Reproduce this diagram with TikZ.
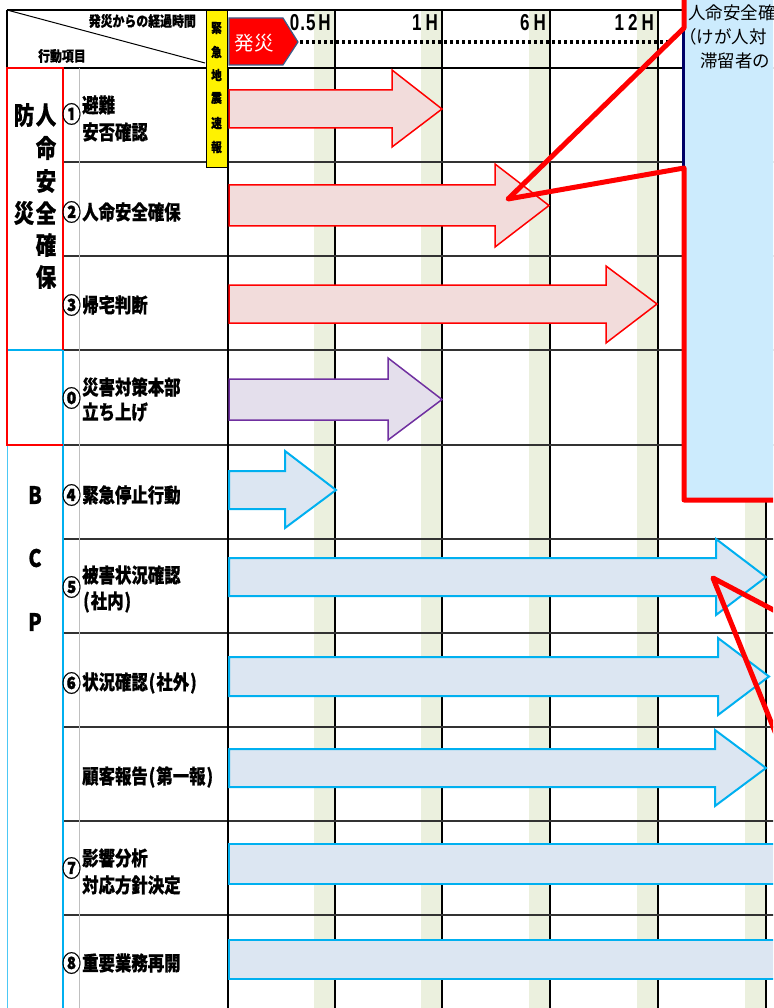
\documentclass[tikz,border=0pt]{standalone}
\usepackage{fontspec}
\newfontfamily\jp{Noto Sans CJK JP}[FakeStretch=0.82, BoldFeatures={FakeBold=0.6}]
\newfontfamily\jpn{Noto Sans CJK JP}
\newfontfamily\hfont{Liberation Sans}[FakeStretch=0.74]
\definecolor{band}{RGB}{235,240,222}
\definecolor{redfill}{RGB}{242,220,219}
\definecolor{purfill}{RGB}{228,223,236}
\definecolor{purline}{RGB}{112,48,160}
\definecolor{bluefill}{RGB}{220,230,242}
\definecolor{blueline}{RGB}{0,176,240}
\definecolor{callfill}{RGB}{204,235,253}
\definecolor{navyline}{RGB}{0,0,102}
\definecolor{pentborder}{RGB}{56,93,138}
\definecolor{rowline}{RGB}{50,50,50}
\newcommand\blkarrow[8]{\draw[#8] (#1,#2) -- (#4,#2) -- (#4,#5) -- (#7,{(#2+#3)/2}) -- (#4,#6) -- (#4,#3) -- (#1,#3) -- cycle;}
\newcommand\lp{\kern1pt(\kern1pt}
\newcommand\rp{\kern1pt)\kern1pt}
\begin{document}
\begin{tikzpicture}[x=1pt,y=-1pt,
  rowtext/.style={font=\jp\bfseries\fontsize{20}{22}\selectfont, anchor=west, inner sep=0pt},
  numtext/.style={font=\jp\bfseries\fontsize{23}{24}\selectfont, inner sep=0pt},
  cattext/.style={font=\jp\bfseries\fontsize{25}{26}\selectfont, inner sep=0pt},
  bcptext/.style={font=\jp\bfseries\fontsize{24}{26}\selectfont, inner sep=0pt},
  hdrtext/.style={font=\jp\bfseries\fontsize{14.5}{16}\selectfont, inner sep=0pt},
  eewtext/.style={font=\jp\bfseries\fontsize{13}{14}\selectfont, inner sep=0pt},
  hourtext/.style={font=\hfont\bfseries\fontsize{23}{24}\selectfont, anchor=base east, inner sep=0pt},
  calltext/.style={font=\jpn\fontsize{17.5}{20}\selectfont, anchor=west, inner sep=0pt},
  redarrow/.style={draw=red, fill=redfill, line width=1.5pt},
  purarrow/.style={draw=purline, fill=purfill, line width=1.5pt},
  bluearrow/.style={draw=blueline, fill=bluefill, line width=2pt},
  gridv/.style={black, line width=1.3pt},
  rowl/.style={rowline, line width=1.6pt},
  pointer/.style={red, line width=5pt, line join=round, line cap=round}]
\clip (0,0) rectangle (773,1008);
\fill[white] (0,0) rectangle (773,1008);
% shaded bands and grid
\foreach \x in {335,442,550,658,766} \fill[band] (\x-21,10) rectangle (\x,1010);
\foreach \x in {335,442,550,658,766} \draw[gridv] (\x,10) -- (\x,1010);
\foreach \y in {162,256,350,445,539,633,727,821,915} \draw[rowl] (63,\y) -- (780,\y);
\draw[black, line width=1.8pt] (7,10) -- (780,10);
\draw[black, line width=2.2pt] (7,68) -- (780,68);
\draw[black, line width=1.5pt] (7,10) -- (7,68);
\draw[black, line width=1pt] (7,10) -- (205,63);
\draw[black!25, line width=1pt] (79,68) -- (79,1010);
\draw[black, line width=2.5pt] (228,68) -- (228,1010);
% category boxes
\draw[blueline!70, line width=1pt] (7,445) -- (7,1010);
\draw[blueline, line width=2pt] (7,350) -- (63,350) -- (63,1010);
\draw[red, line width=1.5pt] (63,350) -- (63,68) -- (7,68) -- (7,445) -- (63,445);
% header texts
\node[hdrtext, anchor=east] (elapsed) at (196,21) {発災からの経過時間};
\node[hdrtext, anchor=west] (items) at (38,56) {行動項目};
\node[draw=black, line width=1.3pt, fill=yellow, minimum width=21pt, minimum height=157pt, inner sep=0pt, anchor=north west] (eew) at (206,10) {};
\node[eewtext] (e1) at (216.5,28) {緊};
\node[eewtext] (e2) at (216.5,52) {急};
\node[eewtext] (e3) at (216.5,75) {地};
\node[eewtext] (e4) at (216.5,98) {震};
\node[eewtext] (e5) at (216.5,123) {速};
\node[eewtext] (e6) at (216.5,147) {報};
\draw[fill=red, draw=pentborder, line width=1.2pt] (229,18) -- (283,18) -- (298,42) -- (283,65) -- (229,65) -- cycle;
\node[font=\jpn\fontsize{19.5}{20}\selectfont, text=white, inner sep=0pt] (hassai) at (254,43) {発災};
\draw[black, line width=4pt, dash pattern=on 3pt off 3pt] (300,42) -- (668,42);
\node[hourtext] (h05) at (331,31) {0\kern1pt.\kern1pt5\kern3pt H};
\node[hourtext] (h1) at (438,31) {1\kern4pt H};
\node[hourtext] (h6) at (546,31) {6\kern4pt H};
\node[hourtext] (h12) at (654,31) {1\kern4pt 2\kern4pt H};
% category labels
\node[cattext] (b1) at (24,115) {防};
\node[cattext] (b2) at (24,213) {災};
\node[cattext] (j1) at (46,115) {人};
\node[cattext] (j2) at (46,148) {命};
\node[cattext] (j3) at (46,181) {安};
\node[cattext] (j4) at (46,213) {全};
\node[cattext] (j5) at (46,245) {確};
\node[cattext] (j6) at (46,277) {保};
\node[bcptext] (cb) at (35,495) {B};
\node[bcptext] (cc) at (35,558) {C};
\node[bcptext] (cp) at (35,622) {P};
% row labels
\node[numtext] (n1) at (71.5,114) {①};
\node[rowtext] (t1a) at (82,105) {避難};
\node[rowtext] (t1b) at (82,132) {安否確認};
\node[numtext] (n2) at (71.5,212) {②};
\node[rowtext] (t2) at (82,212) {人命安全確保};
\node[numtext] (n3) at (71.5,305) {③};
\node[rowtext] (t3) at (82,305) {帰宅判断};
\node[numtext] (n0) at (71.5,398) {⓪};
\node[rowtext] (t0a) at (82,387) {災害対策本部};
\node[rowtext] (t0b) at (82,412) {立ち上げ};
\node[numtext] (n4) at (71.5,495) {④};
\node[rowtext] (t4) at (82,495) {緊急停止行動};
\node[numtext] (n5) at (71.5,587) {⑤};
\node[rowtext] (t5a) at (82,575) {被害状況確認};
\node[rowtext] (t5b) at (82,602) {\lp 社内\rp};
\node[numtext] (n6) at (71.5,683) {⑥};
\node[rowtext] (t6) at (82,683) {状況確認\lp 社外\rp};
\node[rowtext] (t6b) at (82,777) {顧客報告\lp 第一報\rp};
\node[numtext] (n7) at (71.5,868) {⑦};
\node[rowtext] (t7a) at (82,858) {影響分析};
\node[rowtext] (t7b) at (82,885) {対応方針決定};
\node[numtext] (n8) at (71.5,963) {⑧};
\node[rowtext] (t8) at (82,963) {重要業務再開};
% block arrows
\blkarrow{229}{90}{128}{392}{70}{147}{442}{redarrow}
\blkarrow{229}{185}{226}{495}{164}{247}{549}{redarrow}
\blkarrow{229}{285}{323}{606}{266}{343}{657}{redarrow}
\blkarrow{229}{379}{420}{388}{358}{440}{442}{purarrow}
\blkarrow{229}{471}{509}{285}{451}{528}{336}{bluearrow}
\blkarrow{229}{558}{596}{716}{539}{615}{766}{bluearrow}
\blkarrow{229}{657}{696}{718}{638}{715}{769}{bluearrow}
\blkarrow{229}{749}{787}{715}{730}{806}{766}{bluearrow}
\draw[bluearrow] (229,844) rectangle (800,884);
\draw[bluearrow] (229,940) rectangle (800,979);
% callout
\fill[callfill] (684,-10) rectangle (790,500);
\draw[navyline, line width=3pt] (683,28) -- (683,168);
\coordinate (tipA) at (508,199);
\coordinate (cA0) at (684,-10);
\coordinate (cA1) at (684,28);
\coordinate (cA2) at (684,168);
\coordinate (cA3) at (684,500);
\coordinate (cA4) at (790,500);
\draw[pointer] (cA0) -- (cA1) -- (tipA) -- (cA2) -- (cA3) -- (cA4);
\node[calltext] (c1) at (688,13) {人命安全確};
\node[calltext] (c2) at (679,37) {（けが人対};
\node[calltext] (c3) at (700,61) {滞留者の};
\coordinate (tipB) at (713,578);
\coordinate (cB1) at (800,624);
\coordinate (cB2) at (790,769);
\draw[pointer] (cB1) -- (tipB) -- (cB2);
\end{tikzpicture}
\end{document}
